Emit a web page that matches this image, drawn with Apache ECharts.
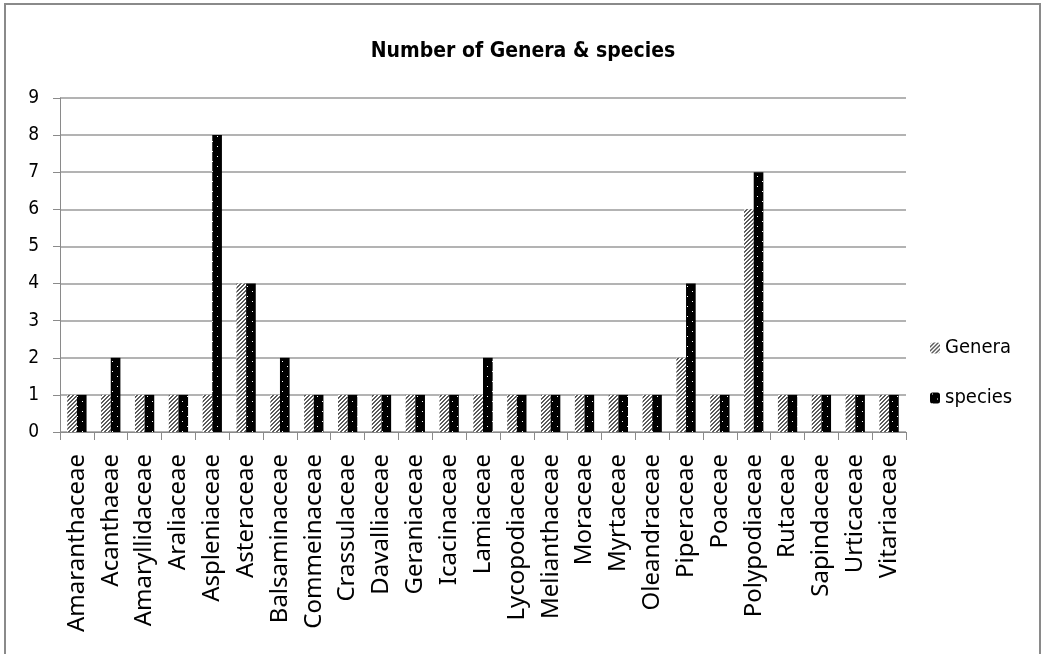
<!DOCTYPE html>
<html>
<head>
<meta charset="utf-8">
<script src="https://cdn.jsdelivr.net/npm/echarts@6/dist/echarts.min.js"></script>
<style>
  html, body { margin: 0; padding: 0; background: #fff; }
  #chart { width: 1046px; height: 654px; }
</style>
</head>
<body>
<div id="chart"></div>
<script>
// Plant families and their counts
const families = [
  'Amaranthaceae', 'Acanthaeae', 'Amaryllidaceae', 'Araliaceae', 'Aspleniaceae',
  'Asteraceae', 'Balsaminaceae', 'Commeinaceae', 'Crassulaceae', 'Davalliaceae',
  'Geraniaceae', 'Icacinaceae', 'Lamiaceae', 'Lycopodiaceae', 'Melianthaceae',
  'Moraceae', 'Myrtaceae', 'Oleandraceae', 'Piperaceae', 'Poaceae',
  'Polypodiaceae', 'Rutaceae', 'Sapindaceae', 'Urticaceae', 'Vitariaceae'
];
const genera  = [1, 1, 1, 1, 1, 4, 1, 1, 1, 1, 1, 1, 1, 1, 1, 1, 1, 1, 2, 1, 6, 1, 1, 1, 1];
const species = [1, 2, 1, 1, 8, 4, 2, 1, 1, 1, 1, 1, 2, 1, 1, 1, 1, 1, 4, 1, 7, 1, 1, 1, 1];
const yTicks = [0, 1, 2, 3, 4, 5, 6, 7, 8, 9];

// Fill patterns: diagonal hatch for genera, dotted black for species
function hatchPattern() {
  const c = document.createElement('canvas');
  c.width = 4; c.height = 4;
  const g = c.getContext('2d');
  g.fillStyle = '#ffffff';
  g.fillRect(0, 0, 4, 4);
  g.fillStyle = '#5a5a5a';
  for (let i = 0; i < 4; i++) {
    g.fillRect(i, 3 - i, 1, 1);
    g.fillRect(i, (4 - i) % 4, 1, 1);
  }
  return c;
}
function dotPattern() {
  const c = document.createElement('canvas');
  c.width = 10; c.height = 10;
  const g = c.getContext('2d');
  g.fillStyle = '#000000';
  g.fillRect(0, 0, 10, 10);
  g.fillStyle = '#ffffff';
  g.fillRect(2, 1, 1, 1);
  g.fillRect(7, 6, 1, 1);
  return c;
}

const chart = echarts.init(document.getElementById('chart'), null, { renderer: 'canvas' });
const narrow = '"DejaVu Sans Condensed", "Open Sans", sans-serif';

chart.setOption({
  animation: false,
  backgroundColor: '#ffffff',
  title: {
    text: 'Number of Genera & species',
    left: 'center',
    top: 36,
    textStyle: { fontFamily: narrow, fontSize: 21, fontWeight: 'bold', color: '#000' }
  },
  graphic: [{
    type: 'rect',
    shape: { x: 5, y: 4, width: 1035, height: 700 },
    style: { fill: 'none', stroke: '#8a8a8a', lineWidth: 2 },
    silent: true
  }],
  legend: {
    orient: 'vertical',
    left: 925,
    top: 333,
    itemWidth: 10,
    itemHeight: 11,
    itemGap: 30,
    textStyle: { fontFamily: narrow, fontSize: 20, color: '#000' },
    data: ['Genera', 'species']
  },
  grid: { left: 60, right: 140, top: 98, bottom: 222, containLabel: false },
  xAxis: {
    type: 'category',
    data: families,
    boundaryGap: true,
    axisLine: { lineStyle: { color: '#8a8a8a', width: 1 } },
    axisTick: { show: true, length: 8, lineStyle: { color: '#8a8a8a' } },
    axisLabel: {
      interval: 0,
      rotate: 90,
      margin: 22,
      fontFamily: 'Noto Sans',
      fontSize: 24,
      color: '#000'
    }
  },
  yAxis: {
    type: 'value',
    min: yTicks[0],
    max: yTicks[yTicks.length - 1],
    interval: 1,
    axisLine: { show: true, lineStyle: { color: '#8a8a8a', width: 1 } },
    axisTick: { show: true, length: 7, lineStyle: { color: '#8a8a8a' } },
    axisLabel: { margin: 21, fontFamily: narrow, fontSize: 19, color: '#000' },
    splitLine: { show: true, lineStyle: { color: '#9a9a9a', width: 1.5 } }
  },
  series: [
    {
      name: 'Genera',
      type: 'bar',
      data: genera,
      barGap: '0%',
      barCategoryGap: '43%',
      itemStyle: { color: { image: hatchPattern(), repeat: 'repeat' } }
    },
    {
      name: 'species',
      type: 'bar',
      data: species,
      barGap: '0%',
      barCategoryGap: '43%',
      itemStyle: { color: { image: dotPattern(), repeat: 'repeat' } }
    }
  ]
});
</script>
</body>
</html>
